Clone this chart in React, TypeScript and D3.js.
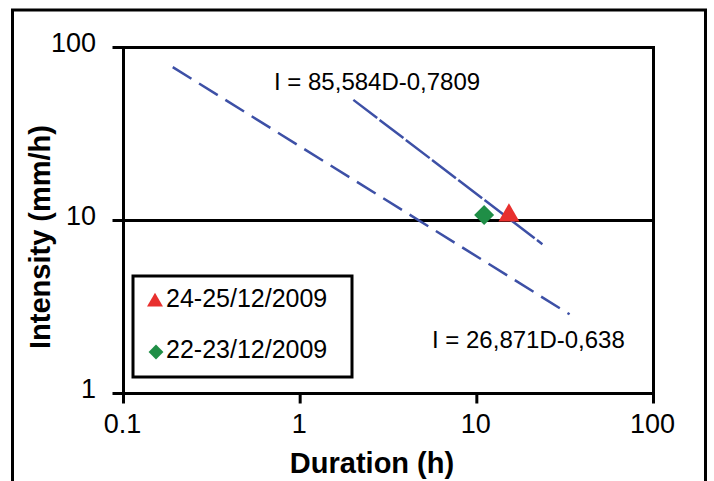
import React from "react";
import * as d3 from "d3";

// ---- data ----
const xTicks = [0.1, 1, 10, 100];
const xTickLabels = ["0.1", "1", "10", "100"];
const yTicks = [1, 10, 100];
const yTickLabels = ["1", "10", "100"];

// fitted IDF curves (end points)
const curveUpperD = [2.0, 23.5];
const curveUpperI = [49.8, 7.3];
const curveLowerD = [0.19, 33.5];
const curveLowerI = [77, 2.87];

const eqUpper = "I = 85,584D-0,7809";
const eqLower = "I = 26,871D-0,638";

const eventNames = ["24-25/12/2009", "22-23/12/2009"];
const eventD = [15.2, 11.0];
const eventI = [10.7, 10.75];

const W = 714;
const H = 481;
const FONT = "'Liberation Sans', Arial, sans-serif";

export default function App() {
  const x = d3.scaleLog().domain([0.1, 100]).range([123.5, 653.5]);
  const y = d3.scaleLog().domain([1, 100]).range([393.5, 47.5]);

  const line = d3
    .line<[number, number]>()
    .x((d) => x(d[0]))
    .y((d) => y(d[1]));

  const upper: [number, number][] = curveUpperD.map((d, i) => [d, curveUpperI[i]]);
  const lower: [number, number][] = curveLowerD.map((d, i) => [d, curveLowerI[i]]);

  const tri = d3.symbol().type(d3.symbolTriangle);
  const sq = d3.symbol().type(d3.symbolSquare);

  const blue = "#3D50A6";
  const red = "#E8302E";
  const green = "#1F8E46";

  const [x0, x1] = x.range();
  const [y1, y0] = y.range();

  return (
    <svg
      width={W}
      height={H}
      style={{ position: "absolute", left: 0, top: 0, background: "#fff" }}
      fontFamily={FONT}
    >
      <rect x={0} y={0} width={W} height={H} fill="#fff" />
      {/* outer frame */}
      <path d={`M12.5,${H} V10 H705.5 V${H}`} fill="none" stroke="#000" strokeWidth={3} />

      {/* plot area border */}
      <rect x={x0} y={y0} width={x1 - x0} height={y1 - y0} fill="none" stroke="#000" strokeWidth={3} />
      {/* gridline at 10 */}
      <line x1={x0} x2={x1} y1={y(10)} y2={y(10)} stroke="#000" strokeWidth={3} />

      {/* y ticks */}
      {yTicks.map((t, i) => (
        <g key={"y" + t}>
          <line x1={x0 - 11} x2={x0} y1={y(t)} y2={y(t)} stroke="#000" strokeWidth={3} />
          <text
            x={96}
            y={y(t) - 3}
            textAnchor="end"
            dominantBaseline="middle"
            fontSize={27}
            fill="#000"
          >
            {yTickLabels[i]}
          </text>
        </g>
      ))}

      {/* x ticks */}
      {xTicks.map((t, i) => (
        <g key={"x" + t}>
          <line x1={x(t)} x2={x(t)} y1={y1} y2={y1 + 10} stroke="#000" strokeWidth={3} />
          <text
            x={x(t) - 1}
            y={y1 + 32}
            textAnchor="middle"
            dominantBaseline="middle"
            fontSize={27}
            fill="#000"
          >
            {xTickLabels[i]}
          </text>
        </g>
      ))}

      {/* axis titles */}
      <text x={372} y={473} textAnchor="middle" fontSize={29} fontWeight="bold" fill="#000">
        Duration (h)
      </text>
      <text
        transform="translate(50,237) rotate(-90)"
        textAnchor="middle"
        fontSize={29}
        fontWeight="bold"
        fill="#000"
      >
        Intensity (mm/h)
      </text>

      {/* curves */}
      <path d={line(lower) || ""} fill="none" stroke={blue} strokeWidth={2.5} strokeDasharray="22,9" />
      <path d={line(upper) || ""} fill="none" stroke={blue} strokeWidth={2.5} strokeDasharray="30,3" />

      {/* equations */}
      <text x={274} y={90} fontSize={24} fill="#000">{eqUpper}</text>
      <text x={432} y={348} fontSize={24} fill="#000">{eqLower}</text>

      {/* event points */}
      <path
        d={sq.size(200)() || ""}
        transform={`translate(${x(eventD[1])},${y(eventI[1])}) rotate(45)`}
        fill={green}
      />
      <path
        d={tri.size(190)() || ""}
        transform={`translate(${x(eventD[0])},${y(eventI[0])})`}
        fill={red}
      />

      {/* legend */}
      <rect x={133} y={276} width={219} height={101} fill="#fff" stroke="#000" strokeWidth={3} />
      <path d={tri.size(110)() || ""} transform="translate(155,302)" fill={red} />
      <text x={166} y={300} dominantBaseline="middle" fontSize={25} fill="#000">
        {eventNames[0]}
      </text>
      <path d={sq.size(110)() || ""} transform="translate(156,352) rotate(45)" fill={green} />
      <text x={166} y={351} dominantBaseline="middle" fontSize={25} fill="#000">
        {eventNames[1]}
      </text>
    </svg>
  );
}
